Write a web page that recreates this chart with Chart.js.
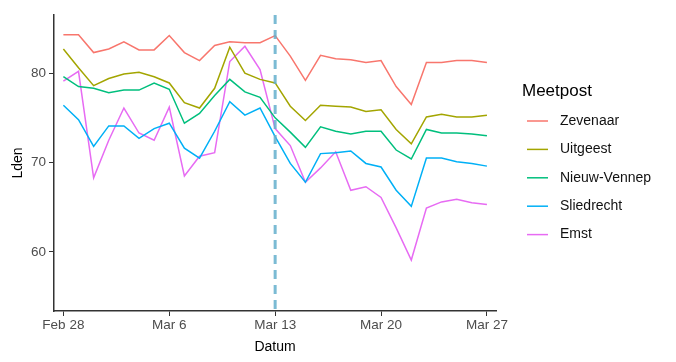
<!DOCTYPE html>
<html>
<head>
<meta charset="utf-8">
<script src="https://cdn.jsdelivr.net/npm/chart.js@4/dist/chart.umd.min.js"></script>
<style>
  html, body { margin: 0; padding: 0; background: #fff; }
  #wrap { width: 676px; height: 362px; }
</style>
</head>
<body>
<div id="wrap"><canvas id="noiseChart"></canvas></div>
<script>
// days from Feb 28 to Mar 27 (2020, leap year)
const dates = ['Feb 28','Feb 29','Mar 1','Mar 2','Mar 3','Mar 4','Mar 5','Mar 6','Mar 7','Mar 8','Mar 9','Mar 10','Mar 11','Mar 12','Mar 13',
  'Mar 14','Mar 15','Mar 16','Mar 17','Mar 18','Mar 19','Mar 20','Mar 21','Mar 22','Mar 23','Mar 24','Mar 25','Mar 26','Mar 27'];
const tickDays = [0, 7, 14, 21, 28];
const yTicks = [60, 70, 80];
const lockdownDay = 14;

const zevenaar = [84.3,84.3,82.3,82.7,83.5,82.6,82.6,84.2,82.3,81.4,83.1,83.5,83.4,83.4,84.2,81.9,79.2,82.0,81.6,81.5,81.2,81.4,78.5,76.5,81.2,81.2,81.4,81.4,81.2];
const uitgeest = [82.7,80.6,78.6,79.4,79.9,80.1,79.6,78.9,76.7,76.1,78.3,82.9,80.0,79.3,78.9,76.3,74.7,76.4,76.3,76.2,75.7,75.9,73.7,72.1,75.1,75.4,75.1,75.1,75.3];
const nieuwVennep = [79.6,78.5,78.3,77.8,78.1,78.1,78.9,78.2,74.4,75.5,77.5,79.3,77.9,77.3,75.0,73.4,71.7,74.0,73.5,73.2,73.5,73.5,71.4,70.4,73.7,73.3,73.3,73.2,73.0];
const sliedrecht = [76.4,74.8,71.8,74.1,74.1,72.7,73.8,74.4,71.6,70.5,73.5,76.8,75.3,76.1,72.9,69.9,67.8,71.0,71.1,71.3,69.9,69.5,66.9,65.1,70.5,70.5,70.1,69.9,69.6];
const emst = [79.1,80.2,68.3,72.5,76.1,73.3,72.5,76.2,68.5,70.7,71.1,81.3,83.0,80.4,73.8,71.9,67.8,69.4,71.2,66.9,67.3,66.1,62.7,59.1,64.9,65.6,65.9,65.5,65.3];

const seriesNames = ['Zevenaar', 'Uitgeest', 'Nieuw-Vennep', 'Sliedrecht', 'Emst'];
const seriesValues = [zevenaar, uitgeest, nieuwVennep, sliedrecht, emst];
const seriesColors = ['#F8766D', '#A3A500', '#00BF7D', '#00B0F6', '#E76BF3'];

const fontFam = '"Liberation Sans", Arial, sans-serif';

// dashed vertical line at Mar 13
const dashPlugin = {
  id: 'dashLine',
  afterDatasetsDraw(chart) {
    const ctx = chart.ctx;
    const x = chart.scales.x.getPixelForValue(lockdownDay);
    const area = chart.chartArea;
    ctx.save();
    ctx.strokeStyle = 'rgba(100,175,205,0.85)';
    ctx.lineWidth = 3;
    ctx.setLineDash([9, 6]);
    ctx.beginPath();
    ctx.moveTo(x, area.top);
    ctx.lineTo(x, area.bottom);
    ctx.stroke();
    ctx.restore();
  }
};

// ggplot style legend on the right
const legendPlugin = {
  id: 'sideLegend',
  afterDraw(chart) {
    const ctx = chart.ctx;
    ctx.save();
    ctx.fillStyle = '#000';
    ctx.font = '17px ' + fontFam;
    ctx.textBaseline = 'middle';
    ctx.fillText('Meetpost', 522, 91);
    ctx.font = '14px ' + fontFam;
    chart.data.datasets.forEach((ds, i) => {
      const y = 121 + i * 28.4;
      ctx.strokeStyle = ds.borderColor;
      ctx.lineWidth = 1.5;
      ctx.beginPath();
      ctx.moveTo(527, y);
      ctx.lineTo(548, y);
      ctx.stroke();
      ctx.fillStyle = '#111';
      ctx.fillText(ds.label, 560, y);
    });
    ctx.restore();
  }
};

const datasets = seriesNames.map((name, s) => ({
  label: name,
  data: seriesValues[s].map((v, i) => ({ x: i, y: v })),
  borderColor: seriesColors[s],
  backgroundColor: seriesColors[s],
  borderWidth: 1.5,
  pointRadius: 0,
  tension: 0,
  fill: false
}));

new Chart(document.getElementById('noiseChart'), {
  type: 'line',
  data: { datasets: datasets },
  options: {
    responsive: true,
    maintainAspectRatio: false,
    animation: false,
    layout: { padding: { left: 0, right: 180, top: 15, bottom: 0 } },
    plugins: { legend: { display: false }, tooltip: { enabled: false } },
    scales: {
      x: {
        type: 'linear',
        min: -0.62,
        max: 28.6,
        afterBuildTicks(scale) { scale.ticks = tickDays.map(v => ({ value: v })); },
        afterFit(scale) { scale.height = 51; },
        ticks: {
          callback: (v) => dates[v],
          color: '#4D4D4D',
          font: { family: fontFam, size: 13.5 },
          padding: 1,
          maxRotation: 0
        },
        grid: { drawOnChartArea: false, drawTicks: true, tickLength: 5, color: '#333', lineWidth: 1 },
        border: { display: true, color: '#333', width: 1.5 },
        title: { display: true, text: 'Datum', color: '#000', font: { family: fontFam, size: 14 }, padding: { top: 2, bottom: 6 } }
      },
      y: {
        min: 53.4,
        max: 86.5,
        afterBuildTicks(scale) { scale.ticks = yTicks.map(v => ({ value: v })); },
        afterFit(scale) { scale.width = 54; },
        ticks: {
          color: '#4D4D4D',
          font: { family: fontFam, size: 13.5 },
          padding: 3
        },
        grid: { drawOnChartArea: false, drawTicks: true, tickLength: 5, color: '#333', lineWidth: 1 },
        border: { display: true, color: '#333', width: 1.5 },
        title: { display: true, text: 'Lden', color: '#000', font: { family: fontFam, size: 14 }, padding: { top: 10, bottom: 0 } }
      }
    }
  },
  plugins: [dashPlugin, legendPlugin]
});
</script>
</body>
</html>
